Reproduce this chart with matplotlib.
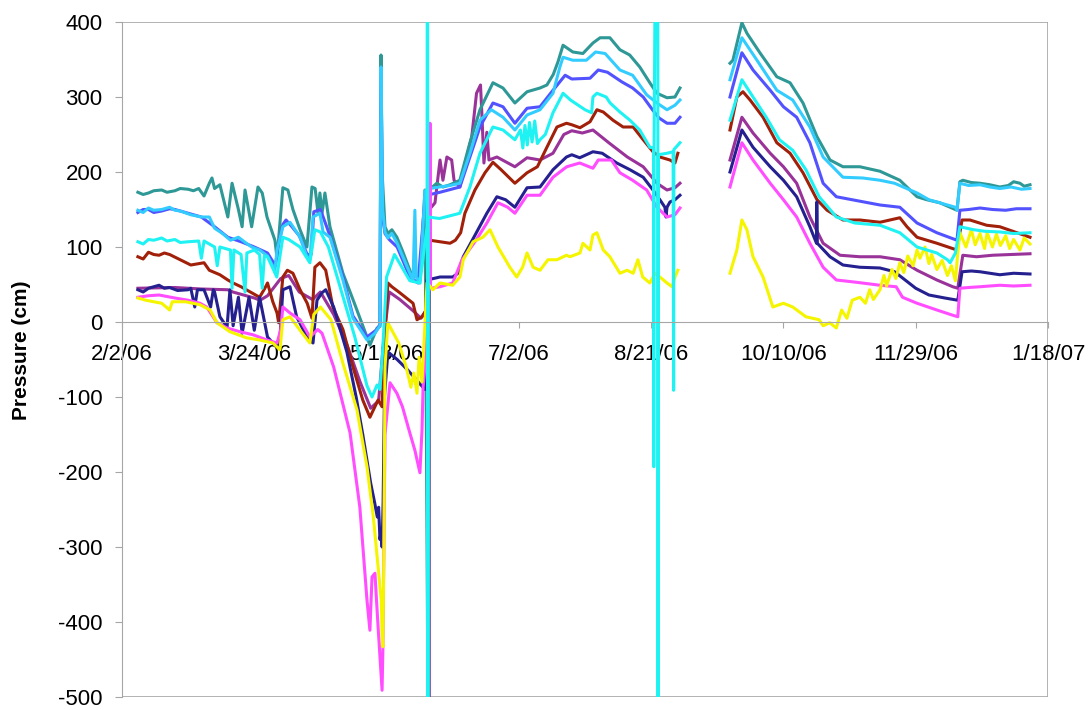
import numpy as np
import matplotlib
matplotlib.use('Agg')
import matplotlib.pyplot as plt
from matplotlib.patches import Rectangle

nan = np.nan

# 圧力計データ: 2/2/06 からの経過日数 と 圧力 (cm)、nan は欠測区間
teal_day = [6, 8, 10, 12, 15, 17, 20, 22, 25, 27, 29, 31, 33, 34, 35, 37, 40, 41.6, 44, 45.4, 46.5, 49,
            51.4, 53, 54.8, 57.8, 58.6, 60.8, 62.7, 64.6, 67.3, 69.9, 71.8, 73, 74.1, 74.8, 75.6, 76.7,
            78.6, 83.5, 87.3, 92.6, 93.7, 96.4, 97.5, 97.9, 98.3, 99.4, 100.5, 102, 103.9, 106, 108.8,
            110, 110.7, 112.6, 114.5, 115.8, 116.0, 119, 121.3, 124, 127.7, 131.5, 135.3, 140.2, 144,
            148.5, 153.1, 158, 160.6, 163, 164.8, 166.7, 170.4, 174.2, 178, 180.7, 184.4, 188.2, 191.9,
            195.7, 199.5, 202.2, 206, 209, 210.9, nan,
            229.8, 230.9, 234.3, 236.2, 241.1, 247.5, 252.5, 257.4, 262.7, 267.6, 272.5, 278.9, 286.5,
            294, 300.5, 304.2, 309.1, 315.6, 316.7, 317.8, 321, 324.3, 328, 331.8, 335, 337, 339.4,
            341, 343.2]
teal_cm = [173, 170, 172, 175, 176, 173, 175, 178, 177, 175, 178, 168, 185, 192, 178, 183, 140, 185, 150,
           127, 176, 127, 180, 172, 140, 109, 85, 179, 176, 150, 123, 100, 180, 178, 145, 172, 145, 172,
           127, 65, 30, -20, -31, -8, -6, 356, 200, 127, 118, 123, 113, 95, 69,
           60, 62, 56, 176, -600, 176, 185, 180, 183, 189, 239, 283, 319, 312,
           292, 307, 312, 316, 330, 347, 369, 360, 358, 372, 379, 379, 363, 356,
           340, 319, 305, 299, 300, 312, nan,
           345, 349, 399, 385, 359, 327, 319, 292, 247, 216, 207, 207, 201,
           189, 167, 163, 159, 149, 187, 189, 186, 185, 183, 180, 182, 187, 185,
           181, 183]

sky_day = [6, 8, 10, 12, 15, 18, 20, 22, 26, 30, 33, 35, 38, 41, 44, 47, 49, 52, 55, 57.8, 58.6, 60.8,
           63.5, 67.3, 69.9, 71, 72.2, 74.8, 76, 78.6, 83.5, 87.3, 92.6, 95.6, 97.5, 97.9, 98.5, 99.4,
           100.5, 102, 104, 108.8, 110, 110.7, 111.2, 112.6, 114.5, 116.4, 120, 124, 127.7, 131.5,
           135.3, 139.6, 144, 148.5, 153.1, 158, 162.9, 165.5, 166.7, 170.4, 175.5, 179, 182.6, 188.2,
           193, 198.3, 202.2, 206, 209, 210.9, nan,
           229.8, 234.3, 240, 247.5, 253.5, 260, 265, 272.5, 280, 286.5, 292, 300.5, 305, 315, 315.6,
           316.7, 320, 324.3, 328, 331.8, 336, 340, 343.2]
sky_cm = [149, 146, 152, 149, 150, 153, 149, 148, 143, 140, 140, 125, 118, 109, 113, 105, 100, 96, 88,
          69, 96, 127, 133, 113, 87, 83, 140, 145, 120, 113, 56, 5, -24, -15, -5, 340, 150, 120,
          112, 118, 105, 65, 55, 149, 60, 52, 175, 178, 180, 182, 185, 225,
          269, 283, 273, 256, 276, 283, 305, 340, 353, 349, 349, 360, 358, 336,
          329, 303, 292, 283, 289, 296, nan,
          323, 379, 349, 309, 296, 260, 220, 193, 192, 189, 185, 172, 163, 153, 149,
          185, 182, 183, 180, 178, 180, 177, 178]

blue_day = [6, 8, 10, 12, 15, 18, 20, 25, 30, 35, 40, 45, 50, 55, 58, 59, 60.8, 62, 64, 67, 70, 71.5,
            72.5, 75, 78.6, 83.5, 87.3, 92.6, 96.4, 97.5, 97.9, 98.5, 99.4, 101, 104, 108.8, 111.9,
            114.5, 116.4, 120.2, 127.7, 131.5, 135.3, 140.2, 144, 148.5, 153.1, 158, 162.9, 167.5, 170,
            176.9, 180, 183.5, 189, 193, 197, 200.5, 203, 206, 209, 210.9, nan,
            229.8, 234.3, 238.5, 245, 250, 255, 260, 265, 270, 276, 286.5, 294, 300.5, 308, 315.6,
            316.7, 320, 324.3, 329, 334, 338, 343.2]
blue_cm = [146, 150, 150, 146, 148, 151, 150, 145, 140, 127, 113, 107, 100, 92, 75, 100, 130, 136, 128,
           115, 90, 90, 147, 150, 115, 60, 8, -20, -10, -3, 330, 140, 118, 110, 100, 60, 52,
           163, 170, 173, 180, 220, 260, 292, 287, 265, 285, 287, 309, 329, 324,
           325, 336, 333, 320, 312, 300, 283, 272, 265, 265, 273, nan,
           300, 359, 336, 309, 287, 273, 239, 185, 167, 163, 156, 153, 132, 119, 109,
           149, 150, 152, 150, 149, 151, 151]

cyan_day = [6, 8, 10, 12, 15, 17, 20, 22, 25, 29, 30, 31, 35, 36, 37, 41, 41.6, 42.3, 45, 46.5, 47.2,
            50, 52, 53, 53.8, 55, 58.5, 60.8, 63, 67.3, 71, 72.9, 75, 78, 83, 88, 92.6, 94.5, 96.4,
            97.5, 98.5, 100, 103, 108.8, 112.6, 115.3, 115.5, 115.6, 115.7, 120, 127.7, 131.5, 135.3,
            140.2, 144, 148.5, 150.6, 151.5, 152.3, 153.2, 154, 155, 156, 157, 158, 160, 162.9, 166.7,
            169.5, 175, 177.5, 178, 179.5, 183, 184.5, 188.2, 192, 195.7, 199.5, 200.9, 201.0, 201.1,
            202.5, 202.6, 202.7, 206, 208.3, 208.5, 208.6, 210.9, nan,
            229.8, 234.3, 238.5, 243.5, 248.5, 253.5, 258.5, 263.5, 270, 277, 286.5, 294, 300.5, 308,
            312, 313, 315, 316.7, 322, 326, 332, 337, 343.2]
cyan_cm = [107, 104, 110, 109, 112, 108, 110, 106, 107, 108, 85, 108, 100, 75, 100, 96, 45, 96, 90, 40,
           92, 96, 90, 45, 88, 87, 60, 113, 110, 100, 79, 123, 120, 100, 40, -20, -85, -100, -84,
           -90, -40, 60, 90, 55, 52, 127, 1000, -1000, 140, 138, 145, 180, 225,
           260, 256, 243, 256, 232, 262, 236, 266, 240, 268, 238, 243, 250, 279, 305,
           296, 283, 279, 300, 305, 300, 292, 280, 269, 256, 233, 232, -193, 230,
           1000, -1000, 223, 225, 227, -91, 230, 239, nan,
           269, 323, 300, 273, 243, 229, 203, 167, 140, 132, 129, 119, 100, 92,
           83, 79, 92, 127, 123, 121, 120, 118, 119]

red_day = [6, 8, 10, 12, 14, 16, 18, 22, 26, 31, 33, 37, 40, 42, 45, 49, 52, 54, 55, 57, 58.6, 59.2,
           60.8, 62.5, 64.6, 67.3, 70, 71.8, 72.9, 74.8, 77, 79.7, 83.5, 87.3, 91, 93.7, 96.8, 98.3,
           99.4, 100.5, 102, 105, 110, 111.5, 113.4, 115, 115.6, 116.4, 120.2, 124, 126, 128, 129.6,
           133.4, 137.2, 140.2, 143.3, 148.5, 153.1, 157, 160.6, 164.4, 168, 170, 173.1, 176.9, 179.5,
           181.9, 185.6, 189.4, 193.2, 197, 200.7, 203.3, 207.1, 209, 210.1, nan,
           229.8, 232.4, 234.7, 237.4, 242.3, 247.5, 252.5, 257.4, 262.7, 266.5, 272.5, 278.9, 286.5,
           294, 296.7, 300.5, 308, 315.6, 317.5, 320.5, 326.8, 331.8, 338.3, 343.2]
red_cm = [87, 84, 93, 90, 89, 92, 90, 83, 76, 79, 69, 63, 56, 52, 47, 39, 33, 45, 52, 27, 12, -1,
          60, 69, 65, 43, 25, 5, 73, 79, 69, 20, -10, -60, -104, -127, -104, -113,
          -15, 52, 47, 39, 25, 3, 7, 16, 100, 109, 107, 105, 109, 119, 145,
          176, 199, 213, 203, 185, 199, 207, 233, 260, 265, 263, 259, 267, 283,
          280, 269, 260, 260, 243, 227, 220, 216, 212, 225, nan,
          256, 300, 307, 296, 273, 239, 225, 199, 163, 149, 136, 136, 133,
          139, 127, 113, 105, 96, 136, 136, 129, 127, 119, 113]

purple_day = [6, 20, 30, 40, 41.9, 50, 52.2, 55, 60, 63, 67, 72, 75, 80, 85, 90, 94, 97, 99, 101,
              105, 110, 113, 115.8, 116.0, 116.2, 118.3, 120.2, 121.3, 122.8, 124.6, 125.5, 127.7, 130,
              132.2, 134, 135.5, 136, 136.8, 137.9, 138.7, 141.7, 148.5, 153.1, 158, 162.9, 167, 170,
              174, 178, 184, 191, 197, 202.2, 206, 209, 210.9, nan,
              229.8, 234.3, 238.5, 245, 250, 255, 260, 265, 271.4, 278.9, 286.5, 294, 300.5, 308, 314,
              315.9, 317.8, 323, 329, 336, 343.2]
purple_cm = [45, 46, 44, 43, 40, 32, 29, 35, 58, 62, 40, 30, 40, 10, -30, -80, -115, -105, -20, 40,
             30, 15, 5, 20, -700, 150, 159, 216, 189, 220, 216, 189, 180, 216,
             247, 305, 316, 279, 212, 253, 216, 220, 207, 219, 216, 225, 250, 255,
             252, 256, 239, 220, 207, 185, 176, 179, 185, nan,
             216, 273, 252, 225, 207, 185, 140, 105, 89, 87, 87, 83, 69, 56, 47,
             45, 89, 87, 89, 90, 91]

navy_day = [6, 8, 10, 12, 14, 16, 18, 21, 25, 26, 27.5, 28.5, 31, 33.5, 34.5, 35, 37, 39.7, 40.8, 42,
            44, 45.4, 48, 50, 52, 55, 57, 59.5, 60.8, 63.5, 66, 69.9, 72.2, 73.7, 75.6, 77, 80, 85,
            88.5, 91, 94, 95.5, 96.5, 97, 97.5, 98, 98.3, 98.7, 99.2, 100.5, 104, 108, 112, 114.5,
            115.3, 120.2, 125, 127, 129, 133, 137.9, 141.7, 145, 148.5, 153.1, 158, 162.9, 168, 170,
            173, 178, 181.5, 187, 192, 197, 200.7, 203.3, 205.2, 205.6, 206, 207.1, 209, 210.9, nan,
            229.8, 234.3, 238.5, 245, 250, 255, 260, 262.5, 262.6, 262.8, 267.6, 272.5, 278.9, 286.5,
            292, 296, 300, 305, 311, 315.9, 317.5, 321, 324.3, 328, 331.8, 337, 343.2]
navy_cm = [43, 40, 45, 47, 49, 45, 46, 42, 43, 45, 20, 43, 43, 20, 43, 40, 7, -7, 43, -5,
           33, -15, 33, -11, 33, -20, -28, -33, 43, 47, 7, -20, -28, 29, 39, 43, 20, -40,
           -100, -150, -215, -241, -260, -247, -290, -277, -300, -240, -100, -40, -50, -64, -80, -90,
           56, 60, 60, 65, 87, 113, 145, 167, 163, 153, 179, 180, 203, 220, 223,
           219, 227, 225, 212, 203, 193, 176, 163, 153, 140, 153, 160, 163, 169, nan,
           200, 256, 233, 207, 189, 167, 127, 105, 160, 105, 87, 76, 73, 72,
           67, 56, 45, 36, 32, 29, 67, 68, 67, 65, 63, 65, 64]

pink_day = [6, 10, 14, 20, 25, 29.5, 32, 35.9, 39.7, 44.6, 49.5, 54.8, 58.6, 60, 60.8, 63.5, 67.3, 71,
            74, 75.6, 80, 86.2, 89.9, 92.6, 93.7, 94.5, 95.6, 96.8, 98.3, 98.6, 99.4, 101.3, 103.9, 106,
            108.8, 110.7, 112.6, 113.4, 113.8, 114.5, 115.3, 116.2, 116.4, 116.6, 120.2, 125, 128.5,
            133.8, 137.9, 142.1, 145.8, 148.5, 153.1, 158, 162.9, 168.1, 173, 178, 180, 185, 188.2, 193,
            198.3, 202.2, 206, 209, 210.9, nan,
            229.8, 234.3, 238.5, 245, 250, 255, 260, 265, 270, 277.5, 286.5, 292.6, 295, 300.5, 308,
            314, 315.9, 316.7, 320, 324.3, 328, 331.8, 337, 343.2]
pink_cm = [33, 35, 36, 32, 29, 25, 20, -1, -8, -13, -17, -24, -28, -10, 20, 12, 3, -20,
           -10, -15, -60, -148, -247, -371, -411, -340, -335, -407, -491, -437, -150, -81, -95, -113,
           -148, -171, -201, -144, -87, -60, 43, 43, 265, 45, 47, 52, 83,
           109, 132, 159, 153, 145, 169, 169, 193, 207, 212, 205, 216, 216, 199, 189,
           176, 153, 140, 143, 152, nan,
           180, 239, 216, 185, 163, 140, 105, 73, 56, 53, 49, 47, 33, 25, 16,
           9, 7, 45, 46, 47, 48, 49, 48, 49]

yellow_day = [6, 9, 12, 15, 18, 19, 24, 29.5, 33.3, 35.9, 40.8, 47, 52, 57, 59.7, 60.8, 63.5, 67.3, 71,
              72.5, 75, 79, 83.5, 88.8, 92.6, 95, 96.8, 98, 98.3, 98.6, 99, 99.4, 100.5, 102, 104.6,
              107.4, 109.2, 110.3, 111.5, 112.3, 113.4, 115.3, 117.5, 120.2, 125, 127.7, 129, 132.7,
              136.4, 139.1, 142.1, 146.6, 149.2, 151.4, 153.1, 155.4, 158, 161, 164.4, 168, 169.3,
              173.1, 174.2, 176.9, 178, 179.5, 181.9, 184.4, 188.2, 190.9, 193.2, 195, 196.8, 199.5,
              201.5, 203.3, 206, 207.9, 209, 210.1, nan,
              229.8, 232.4, 234.3, 236.2, 238.5, 242.3, 246, 250, 253.5, 258.5, 263.5, 265, 267.5, 270,
              272, 274, 276, 278.9, 281, 282.6, 284, 286.5, 288, 289, 291, 292.5, 294, 295.5, 297, 299,
              300.5, 301.6, 303.5, 305, 306, 308, 310, 312, 313.5, 315, 315.9, 316.7, 319, 321, 322.5,
              324.3, 326, 327, 329, 330.5, 332, 334, 335.5, 337, 339.4, 341, 343.2]
yellow_cm = [32, 29, 27, 25, 16, 27, 27, 23, 16, -1, -13, -21, -24, -28, -37, 3, 7, -11, -28,
             10, 20, 3, -55, -117, -193, -260, -327, -371, -415, -433, -300, -60, -1, -11, -28,
             -60, -87, -68, -95, -47, -80, 52, 43, 52, 49, 60, 83, 107,
             113, 123, 100, 73, 60, 73, 92, 73, 69, 83, 83, 89, 87,
             92, 105, 96, 116, 119, 96, 87, 65, 69, 65, 83, 60, 52,
             65, 60, 52, 47, 60, 69, nan,
             65, 96, 136, 123, 87, 60, 20, 25, 20, 7, 3, -5, -1, -8,
             16, 5, 29, 33, 25, 43, 30, 43, 62, 48, 70, 58, 79, 66, 88, 75,
             96, 85, 100, 78, 90, 70, 82, 62, 75, 55, 92, 119, 100, 123, 103,
             118, 98, 119, 100, 117, 102, 115, 98, 110, 96, 112, 104]

tick_days = [0, 50, 100, 150, 200, 250, 300, 350]
tick_labels = ['2/2/06', '3/24/06', '5/13/06', '7/2/06', '8/21/06', '10/10/06', '11/29/06', '1/18/07']
y_ticks = list(range(-500, 401, 100))

# 描画順 (後のものが上に重なる)
series = [
    (purple_day, purple_cm, '#993399'),
    (teal_day, teal_cm, '#2E9896'),
    (blue_day, blue_cm, '#5252FF'),
    (sky_day, sky_cm, '#33CCFF'),
    (red_day, red_cm, '#A0200A'),
    (navy_day, navy_cm, '#25208F'),
    (pink_day, pink_cm, '#FF4DFF'),
    (yellow_day, yellow_cm, '#F5F500'),
    (cyan_day, cyan_cm, '#1FF2F2'),
]

plt.rcParams['font.family'] = ['Liberation Sans', 'DejaVu Sans']
plt.rcParams['axes.unicode_minus'] = False
grey = '#A6A6A6'

fig = plt.figure(figsize=(10.92, 7.10), dpi=100)
ax = fig.add_axes([122 / 1092, 13 / 710, 926 / 1092, 675 / 710])

for d, v, c in series:
    ax.plot(d, v, color=c, lw=2.2, solid_joinstyle='round')

ax.set_xlim(0, 350)
ax.set_ylim(-500, 400)

# 横軸は 0 cm の位置に置く
for s in ['top', 'right']:
    ax.spines[s].set_visible(False)
ax.spines['bottom'].set_position(('data', 0))
ax.spines['bottom'].set_color(grey)
ax.spines['left'].set_color(grey)
ax.add_patch(Rectangle((0, 0), 1, 1, transform=ax.transAxes, fill=False,
                       ec=grey, lw=1.2, zorder=0.5))

ax.set_xticks(tick_days)
ax.set_xticklabels(tick_labels)
ax.set_yticks(y_ticks)
ax.tick_params(axis='x', direction='out', length=4, color=grey, labelsize=16, pad=12)
ax.tick_params(axis='y', direction='out', length=5, color=grey, labelsize=16, pad=9)

fig.text(22 / 1092, 360 / 710, 'Pressure (cm)', rotation=90, ha='center', va='center',
         fontsize=15, fontweight='bold')

plt.savefig('out.png', dpi=100)
